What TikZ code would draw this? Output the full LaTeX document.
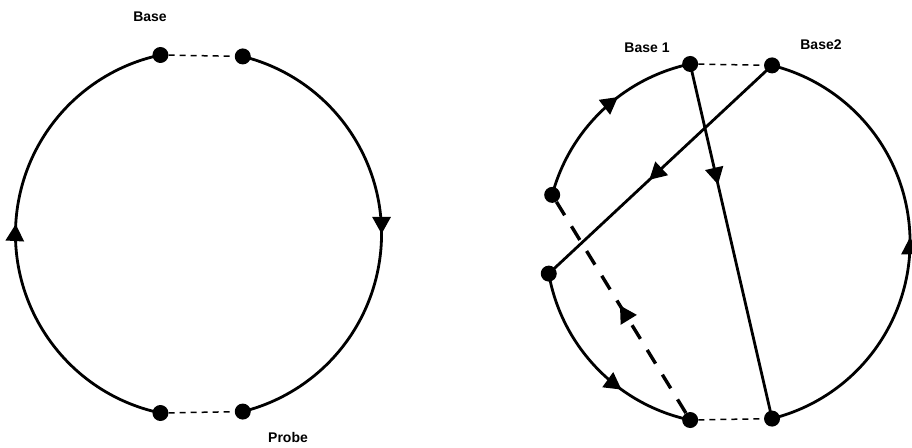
\documentclass[tikz,border=0pt]{standalone}
\usepackage{fontspec}
\setmainfont{Liberation Sans}
\usetikzlibrary{arrows.meta,decorations.markings}
\tikzset{
  dot/.style={circle,fill=black,draw=none,minimum size=16pt,inner sep=0pt},
  wire/.style={line width=2.8pt},
  gapline/.style={line width=1.5pt,dash pattern=on 6pt off 5pt},
  thickdash/.style={line width=3.4pt,dash pattern=on 16pt off 13pt},
  midarrow/.style={postaction={decorate},decoration={markings,
     mark=at position #1 with {\arrow{Triangle[length=17pt,width=18pt]}}}},
  lbl/.style={font=\fontsize{14}{15}\selectfont\bfseries,inner sep=0pt}
}
\begin{document}
\begin{tikzpicture}[x=1pt,y=1pt]
\useasboundingbox (0,0) rectangle (912,447);
% ---------- left circle ----------
\coordinate (L) at (198.5,213);
\path (L) ++(102:183) node[dot] (a1) {};
\path (L) ++(76:183) node[dot] (a2) {};
\path (L) ++(258:183) node[dot] (a3) {};
\path (L) ++(284:183) node[dot] (a4) {};
\draw[wire,midarrow=0.5] (a2.center) arc[start angle=76,end angle=-76,radius=183];
\draw[wire,midarrow=0.52] (a3.center) arc[start angle=258,end angle=102,radius=183];
\draw[gapline] (a1) -- (a2);
\draw[gapline] (a3) -- (a4);
\node[lbl] (base) at (150,430) {Base};
\node[lbl] (probe) at (288,10) {Probe};
% ---------- right circle ----------
\coordinate (R) at (728,205);
\path (R) ++(102:182) node[dot] (b1) {};
\path (R) ++(76:182) node[dot] (b2) {};
\path (R) ++(165:182) node[dot] (ul) {};
\path (R) ++(190:182) node[dot] (ll) {};
\path (R) ++(258:182) node[dot] (bl) {};
\path (R) ++(284:182) node[dot] (br) {};
\draw[wire,midarrow=0.6] (ul.center) arc[start angle=165,end angle=102,radius=182];
\draw[wire,midarrow=0.65] (ll.center) arc[start angle=190,end angle=258,radius=182];
\draw[wire,midarrow=0.51] (br.center) arc[start angle=284,end angle=436,radius=182];
\draw[gapline] (b1) -- (b2);
\draw[gapline] (bl) -- (br);
\draw[wire,midarrow=0.34] (b1.center) -- (br.center);
\draw[wire,midarrow=0.55] (b2.center) -- (ll.center);
\draw[thickdash,midarrow=0.51] (bl) -- (ul);
\node[lbl] (base1) at (647,399) {Base 1};
\node[lbl] (base2) at (821,402) {Base2};
\end{tikzpicture}
\end{document}
